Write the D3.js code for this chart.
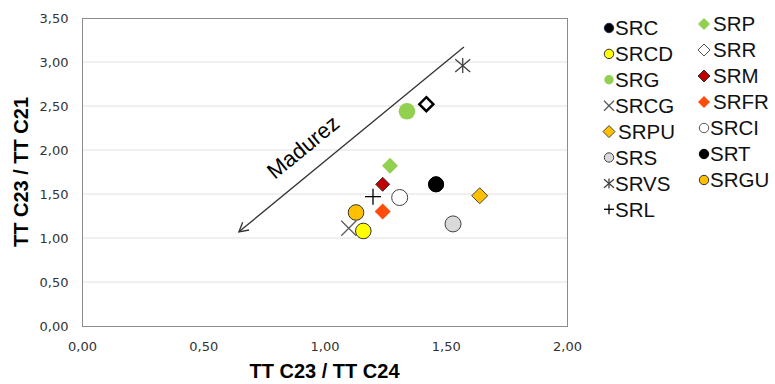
<!DOCTYPE html>
<html>
<head>
<meta charset="utf-8">
<script src="https://cdn.jsdelivr.net/npm/d3@7"></script>
<style>
  body { margin: 0; background: #fff; }
  #chart { width: 775px; height: 384px; }
</style>
</head>
<body>
<div id="chart"><svg width="775" height="384"></svg></div>
<script>
// series names, in legend order
const series = ["SRC", "SRCD", "SRG", "SRCG", "SRPU", "SRS", "SRVS", "SRL",
                "SRP", "SRR", "SRM", "SRFR", "SRCI", "SRT", "SRGU"];
// TT C23 / TT C24
const xVals = [1.46, 1.16, 1.34, 1.10, 1.64, 1.53, 1.57, 1.20,
               1.27, 1.42, 1.24, 1.24, 1.31, 1.46, 1.13];
// TT C23 / TT C21
const yVals = [1.61, 1.08, 2.44, 1.11, 1.48, 1.16, 2.96, 1.47,
               1.82, 2.52, 1.61, 1.30, 1.46, 1.61, 1.29];
const xTicks = [0, 0.5, 1, 1.5, 2];
const yTicks = [0, 0.5, 1, 1.5, 2, 2.5, 3, 3.5];
// "Madurez" arrow, from top right down to bottom left (data units)
const arrowFrom = [1.575, 3.17];
const arrowTo = [0.647, 1.07];

// marker look for each series
const markers = {
  SRC:  {shape: "circle",  fill: "#000000", stroke: "#1f2a55", r: 7.5},
  SRCD: {shape: "circle",  fill: "#ffff00", stroke: "#333333", r: 7.8},
  SRG:  {shape: "circle",  fill: "#92d050", stroke: "none",    r: 8.3},
  SRCG: {shape: "x",       stroke: "#595959", r: 7.5},
  SRPU: {shape: "diamond", fill: "#ffc000", stroke: "#444444", r: 8},
  SRS:  {shape: "circle",  fill: "#d9d9d9", stroke: "#444444", r: 8},
  SRVS: {shape: "star",    stroke: "#404040", r: 7.5},
  SRL:  {shape: "plus",    stroke: "#000000", r: 8},
  SRP:  {shape: "diamond", fill: "#92d050", stroke: "none",    r: 8},
  SRR:  {shape: "diamond", fill: "#ffffff", stroke: "#000000", r: 7, sw: 2.5},
  SRM:  {shape: "diamond", fill: "#c00000", stroke: "#333333", r: 7},
  SRFR: {shape: "diamond", fill: "#ff4c0c", stroke: "none",    r: 8},
  SRCI: {shape: "circle",  fill: "#ffffff", stroke: "#404040", r: 8},
  SRT:  {shape: "circle",  fill: "#000000", stroke: "#000000", r: 7.5},
  SRGU: {shape: "circle",  fill: "#ffc000", stroke: "#333333", r: 7.8}
};

const svg = d3.select("#chart").select("svg");
const margin = {top: 18, left: 82, right: 208, bottom: 58};
const width = 775, height = 384;

const xScale = d3.scaleLinear().domain([0, 2]).range([margin.left, width - margin.right]);
const yScale = d3.scaleLinear().domain([0, 3.5]).range([height - margin.bottom, margin.top]);

// grid
svg.append("g")
  .selectAll("line")
  .data(yTicks.slice(1, -1))
  .enter().append("line")
  .attr("x1", xScale(0)).attr("x2", xScale(2))
  .attr("y1", d => yScale(d)).attr("y2", d => yScale(d))
  .attr("stroke", "#e0e0e0").attr("stroke-width", 1);

// plot border
svg.append("rect")
  .attr("x", xScale(0) + 0.5).attr("y", yScale(3.5) + 0.5)
  .attr("width", xScale(2) - xScale(0)).attr("height", yScale(0) - yScale(3.5))
  .attr("fill", "none").attr("stroke", "#8c8c8c").attr("stroke-width", 1);

const fmt = d => d3.format(".2f")(d).replace(".", ",");

// axes
const xAxis = svg.append("g")
  .attr("transform", "translate(0," + (yScale(0) + 0.5) + ")")
  .call(d3.axisBottom(xScale).tickValues(xTicks).tickFormat(fmt).tickSize(0).tickPadding(15));
const yAxis = svg.append("g")
  .attr("transform", "translate(" + (xScale(0) + 0.5) + ",0)")
  .call(d3.axisLeft(yScale).tickValues(yTicks).tickFormat(fmt).tickSize(0).tickPadding(14));
[xAxis, yAxis].forEach(a => {
  a.select(".domain").remove();
  a.selectAll("text")
    .attr("fill", "#333333")
    .style("font-family", "DejaVu Sans, sans-serif")
    .style("font-size", "13px");
});

// axis titles
svg.append("text")
  .attr("x", xScale(1)).attr("y", 378)
  .attr("text-anchor", "middle")
  .style("font-family", "Liberation Sans, Arial, sans-serif")
  .style("font-size", "20px").style("font-weight", "bold")
  .text("TT C23 / TT C24");
svg.append("text")
  .attr("transform", "translate(28," + yScale(1.75) + ") rotate(-90)")
  .attr("text-anchor", "middle")
  .style("font-family", "Liberation Sans, Arial, sans-serif")
  .style("font-size", "20px").style("font-weight", "bold")
  .text("TT C23 / TT C21");

// maturity arrow
svg.append("defs").append("marker")
  .attr("id", "head")
  .attr("viewBox", "-10 -6 12 12")
  .attr("markerWidth", 12).attr("markerHeight", 12)
  .attr("markerUnits", "userSpaceOnUse")
  .attr("orient", "auto")
  .append("path")
  .attr("d", "M-9,-5 L0,0 L-9,5")
  .attr("fill", "none").attr("stroke", "#333").attr("stroke-width", 1.3);

svg.append("line")
  .attr("x1", xScale(arrowFrom[0])).attr("y1", yScale(arrowFrom[1]))
  .attr("x2", xScale(arrowTo[0])).attr("y2", yScale(arrowTo[1]))
  .attr("stroke", "#333").attr("stroke-width", 1.3)
  .attr("marker-end", "url(#head)");

const ang = Math.atan2(yScale(arrowTo[1]) - yScale(arrowFrom[1]),
                       xScale(arrowTo[0]) - xScale(arrowFrom[0])) * 180 / Math.PI - 180;
svg.append("text")
  .attr("transform", "translate(303,147) rotate(" + ang + ")")
  .attr("text-anchor", "middle")
  .attr("dy", "0.35em")
  .style("font-family", "Liberation Sans, Arial, sans-serif")
  .style("font-size", "22px")
  .text("Madurez");

// draw one marker into g, centered at 0,0
function drawMarker(g, m, r, sw) {
  if (m.shape === "circle") {
    g.append("circle").attr("r", r)
      .attr("fill", m.fill).attr("stroke", m.stroke).attr("stroke-width", sw);
  } else if (m.shape === "diamond") {
    g.append("path")
      .attr("d", `M0,${-r} L${r},0 L0,${r} L${-r},0 Z`)
      .attr("fill", m.fill).attr("stroke", m.stroke).attr("stroke-width", sw)
      .attr("stroke-linejoin", "miter");
  } else {
    let segs = [];
    if (m.shape === "x") segs = [[-r, -r, r, r], [-r, r, r, -r]];
    if (m.shape === "plus") segs = [[-r, 0, r, 0], [0, -r, 0, r]];
    if (m.shape === "star") segs = [[-r, -r * 0.85, r, r * 0.85], [-r, r * 0.85, r, -r * 0.85], [0, -r, 0, r]];
    g.selectAll("line").data(segs).enter().append("line")
      .attr("x1", d => d[0]).attr("y1", d => d[1])
      .attr("x2", d => d[2]).attr("y2", d => d[3])
      .attr("stroke", m.stroke).attr("stroke-width", 1.3);
  }
}

// points
series.forEach((s, i) => {
  const m = markers[s];
  const g = svg.append("g")
    .attr("transform", "translate(" + xScale(xVals[i]) + "," + yScale(yVals[i]) + ")");
  drawMarker(g, m, m.r, m.sw || 1);
});

// legend: two columns, 8 rows then wrap
const legend = svg.append("g");
series.forEach((s, i) => {
  const m = markers[s];
  const col = i < 8 ? 0 : 1;
  const row = i < 8 ? i : i - 8;
  const lx = col === 0 ? 609 : 704;
  const ly = (col === 0 ? 28 : 24) + row * (col === 0 ? 25.9 : 26);
  const g = legend.append("g").attr("transform", "translate(" + lx + "," + ly + ")");
  const lr = m.shape === "diamond" ? 6 : (m.shape === "circle" ? 4.7 : 5);
  // SRR and SRCI get a thin grey edge in the legend
  const lm = (s === "SRR" || s === "SRCI") ? Object.assign({}, m, {stroke: "#555"}) : m;
  drawMarker(g, lm, lr, 1);
  g.append("text")
    .attr("x", m.shape === "diamond" ? 9 : 6).attr("dy", "0.36em")
    .style("font-family", "Liberation Sans, Arial, sans-serif")
    .style("font-size", "20.5px")
    .attr("fill", "#111")
    .text(s);
});
</script>
</body>
</html>
